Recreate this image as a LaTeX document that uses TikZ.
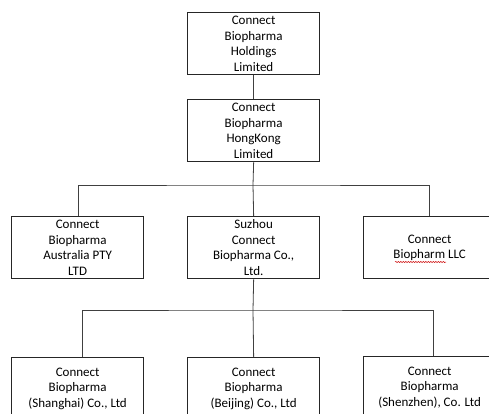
\documentclass[tikz,border=0pt]{standalone}
\usepackage{fontspec}
\setmainfont{Carlito}
\usetikzlibrary{decorations.pathmorphing}
\begin{document}
\begin{tikzpicture}[x=1pt,y=-1pt,
  org/.style={draw=black!85, line width=1.3pt, minimum width=132pt, minimum height=62pt,
    inner sep=0pt, align=center, anchor=north west, font=\fontsize{13}{15.6}\selectfont},
  link/.style={draw=black!75, line width=0.8pt},
  spell/.style={draw=red!80!black, line width=0.5pt, decorate,
    decoration={snake, amplitude=0.6pt, segment length=2.5pt}}]
\fill[white] (0,0) rectangle (489,414);
\useasboundingbox (0,0) rectangle (489,414);
\clip (0,0) rectangle (489,414);
% boxes
\node[org] (hold) at (187,12) {Connect\\Biopharma\\Holdings\\Limited};
\node[org] (hk) at (187,99) {Connect\\Biopharma\\HongKong\\Limited};
\node[org] (aus) at (11,216) {Connect\\Biopharma\\Australia PTY\\LTD};
\node[org] (suz) at (187,216) {Suzhou\\Connect\\Biopharma Co.,\\Ltd.};
\node[org] (llc) at (363,216) {Connect\\Biopharm LLC};
\node[org] (sh) at (11,357) {Connect\\Biopharma\\(Shanghai) Co., Ltd};
\node[org] (bj) at (187,357) {Connect\\Biopharma\\(Beijing) Co., Ltd};
\node[org] (sz) at (363,356) {Connect\\Biopharma\\(Shenzhen), Co. Ltd};
% connectors
\coordinate (bar1) at (253,185);
\coordinate (bar2) at (253,310);
\draw[link] (hold.south) -- (hk.north);
\draw[link] (hk.south) -- (bar1);
\draw[link] ([xshift=1pt]aus.north) |- (bar1) -| (llc.north);
\draw[link] (bar1) -- (suz.north);
\draw[link] (suz.south) -- (bar2);
\draw[link] ([xshift=5pt]sh.north) |- (bar2) -| ([xshift=4pt]sz.north);
\draw[link] (bar2) -- (bj.north);
% spell-check underline
\draw[spell] (395,262) -- (446,262);
\end{tikzpicture}
\end{document}
